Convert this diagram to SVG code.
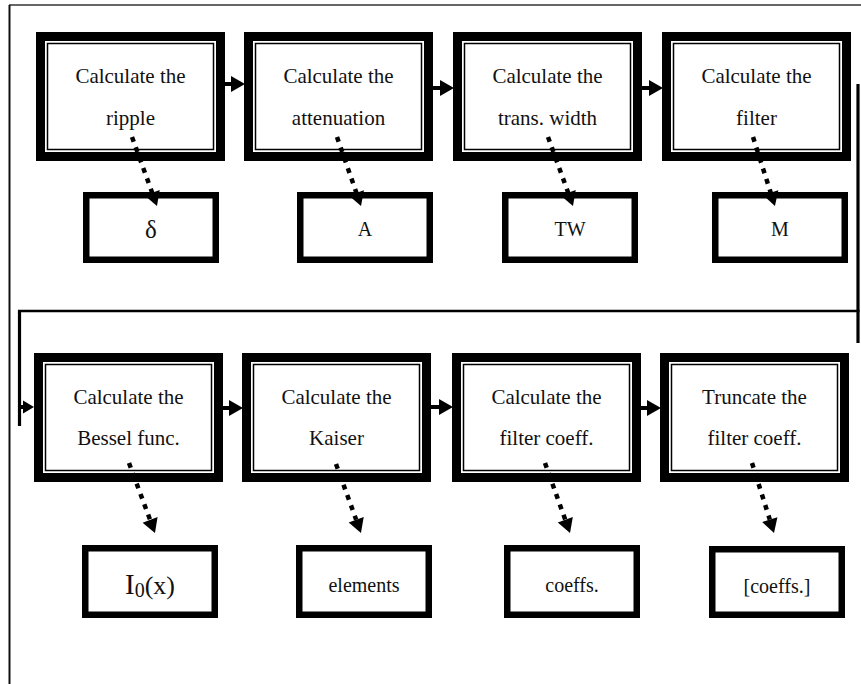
<svg xmlns="http://www.w3.org/2000/svg" width="861" height="684" viewBox="0 0 861 684">
<style>
.big{fill:#fff;stroke:#000;stroke-width:9}
.inner{fill:none;stroke:#000;stroke-width:1.5}
.small{fill:#fff;stroke:#000;stroke-width:6.5}
.t{font-family:"Liberation Serif","Times New Roman",serif;font-size:21px;fill:#111;text-anchor:middle}
.s{font-family:"Liberation Serif","Times New Roman",serif;font-size:20px;fill:#111;text-anchor:middle}
.flow{fill:none;stroke:#000;stroke-width:4;marker-end:url(#ah)}
.dot{fill:none;stroke:#000;stroke-width:4.5;stroke-dasharray:5 6;marker-end:url(#ah)}
.wire{fill:none;stroke:#000}
</style>
<defs>
<marker id="ah" markerUnits="userSpaceOnUse" markerWidth="14" markerHeight="16" refX="0" refY="8" orient="auto" overflow="visible">
<path d="M0,0 L14,8 L0,16 z" fill="#000"/>
</marker>
<marker id="ahs" markerUnits="userSpaceOnUse" markerWidth="11" markerHeight="13" refX="0" refY="6.5" orient="auto" overflow="visible">
<path d="M0,0 L11,6.5 L0,13 z" fill="#000"/>
</marker>
</defs>
<rect width="861" height="684" fill="#fff"/>
<g id="frame">
<line x1="9" y1="5" x2="861" y2="5" stroke="#333" stroke-width="1.5"/>
<line x1="9.5" y1="5" x2="9.5" y2="684" stroke="#111" stroke-width="2"/>
</g>

<g id="n_ripple">
<rect class="big" x="40.5" y="36.5" width="180" height="120"/>
<rect class="inner" x="47.5" y="43.5" width="166" height="106"/>
<text class="t" x="130.5" y="83">Calculate the</text>
<text class="t" x="130.5" y="125">ripple</text>
</g>
<g id="n_atten">
<rect class="big" x="248.5" y="36.5" width="180" height="120"/>
<rect class="inner" x="255.5" y="43.5" width="166" height="106"/>
<text class="t" x="338.5" y="83">Calculate the</text>
<text class="t" x="338.5" y="125">attenuation</text>
</g>
<g id="n_tw">
<rect class="big" x="457.5" y="36.5" width="180" height="120"/>
<rect class="inner" x="464.5" y="43.5" width="166" height="106"/>
<text class="t" x="547.5" y="83">Calculate the</text>
<text class="t" x="547.5" y="125">trans. width</text>
</g>
<g id="n_filter">
<rect class="big" x="666.5" y="36.5" width="180" height="120"/>
<rect class="inner" x="673.5" y="43.5" width="166" height="106"/>
<text class="t" x="756.5" y="83">Calculate the</text>
<text class="t" x="756.5" y="125">filter</text>
</g>

<g id="o_delta">
<rect class="small" x="86.25" y="195.25" width="129.5" height="64.5"/>
<text class="s" x="151" y="238" style="font-size:25px">δ</text>
</g>
<g id="o_A">
<rect class="small" x="300.25" y="195.25" width="129.5" height="64.5"/>
<text class="s" x="365" y="236">A</text>
</g>
<g id="o_TW">
<rect class="small" x="505.25" y="195.25" width="129.5" height="64.5"/>
<text class="s" x="570" y="236">TW</text>
</g>
<g id="o_M">
<rect class="small" x="715.25" y="195.25" width="129.5" height="64.5"/>
<text class="s" x="780" y="236">M</text>
</g>

<g id="n_bessel">
<rect class="big" x="38.5" y="357.5" width="180" height="120"/>
<rect class="inner" x="45.5" y="364.5" width="166" height="106"/>
<text class="t" x="128.5" y="404">Calculate the</text>
<text class="t" x="128.5" y="445">Bessel func.</text>
</g>
<g id="n_kaiser">
<rect class="big" x="246.5" y="357.5" width="180" height="120"/>
<rect class="inner" x="253.5" y="364.5" width="166" height="106"/>
<text class="t" x="336.5" y="404">Calculate the</text>
<text class="t" x="336.5" y="445">Kaiser</text>
</g>
<g id="n_coeff">
<rect class="big" x="456.5" y="357.5" width="180" height="120"/>
<rect class="inner" x="463.5" y="364.5" width="166" height="106"/>
<text class="t" x="546.5" y="404">Calculate the</text>
<text class="t" x="546.5" y="445">filter coeff.</text>
</g>
<g id="n_trunc">
<rect class="big" x="664.5" y="357.5" width="180" height="120"/>
<rect class="inner" x="671.5" y="364.5" width="166" height="106"/>
<text class="t" x="754.5" y="404">Truncate the</text>
<text class="t" x="754.5" y="445">filter coeff.</text>
</g>

<g id="o_I0">
<rect class="small" x="85.25" y="548.25" width="129.5" height="66.5"/>
<text class="s" x="150" y="594"><tspan style="font-size:29px">I</tspan><tspan style="font-size:20px" dy="3">0</tspan><tspan style="font-size:26px" dy="-3">(x)</tspan></text>
</g>
<g id="o_elements">
<rect class="small" x="299.25" y="548.25" width="129.5" height="66.5"/>
<text class="s" x="364" y="592">elements</text>
</g>
<g id="o_coeffs">
<rect class="small" x="507.25" y="548.25" width="129.5" height="66.5"/>
<text class="s" x="572" y="592">coeffs.</text>
</g>
<g id="o_trunc">
<rect class="small" x="712.25" y="549.25" width="129.5" height="65.5"/>
<text class="s" x="777" y="593">[coeffs.]</text>
</g>

<g id="connectors">
<line class="flow" x1="224" y1="84" x2="231" y2="84"/>
<line class="flow" x1="432" y1="88" x2="440" y2="88"/>
<line class="flow" x1="641" y1="88" x2="649" y2="88"/>
<line class="flow" x1="221" y1="408" x2="229" y2="408"/>
<line class="flow" x1="431" y1="407" x2="439" y2="407"/>
<line class="flow" x1="640" y1="408" x2="647" y2="408"/>
<line class="wire" x1="858" y1="84" x2="858" y2="343" stroke-width="3.2"/>
<line class="wire" x1="18" y1="311" x2="859.5" y2="311" stroke-width="2.4"/>
<line class="wire" x1="19.5" y1="310" x2="19.5" y2="426" stroke-width="3.2"/>
<line class="flow" x1="19" y1="407" x2="23" y2="407" style="marker-end:url(#ahs)"/>
<line class="dot" x1="132" y1="137" x2="152.2" y2="192.8"/>
<line class="dot" x1="337" y1="137" x2="356.4" y2="192.8"/>
<line class="dot" x1="548" y1="137" x2="568.2" y2="192.8"/>
<line class="dot" x1="753" y1="137" x2="770.7" y2="192.7"/>
<line class="dot" x1="129" y1="463" x2="150.1" y2="519.9"/>
<line class="dot" x1="336" y1="464" x2="356.2" y2="519.8"/>
<line class="dot" x1="545" y1="463" x2="565.3" y2="519.8"/>
<line class="dot" x1="752" y1="463" x2="769.8" y2="519.6"/>
</g>
</svg>
